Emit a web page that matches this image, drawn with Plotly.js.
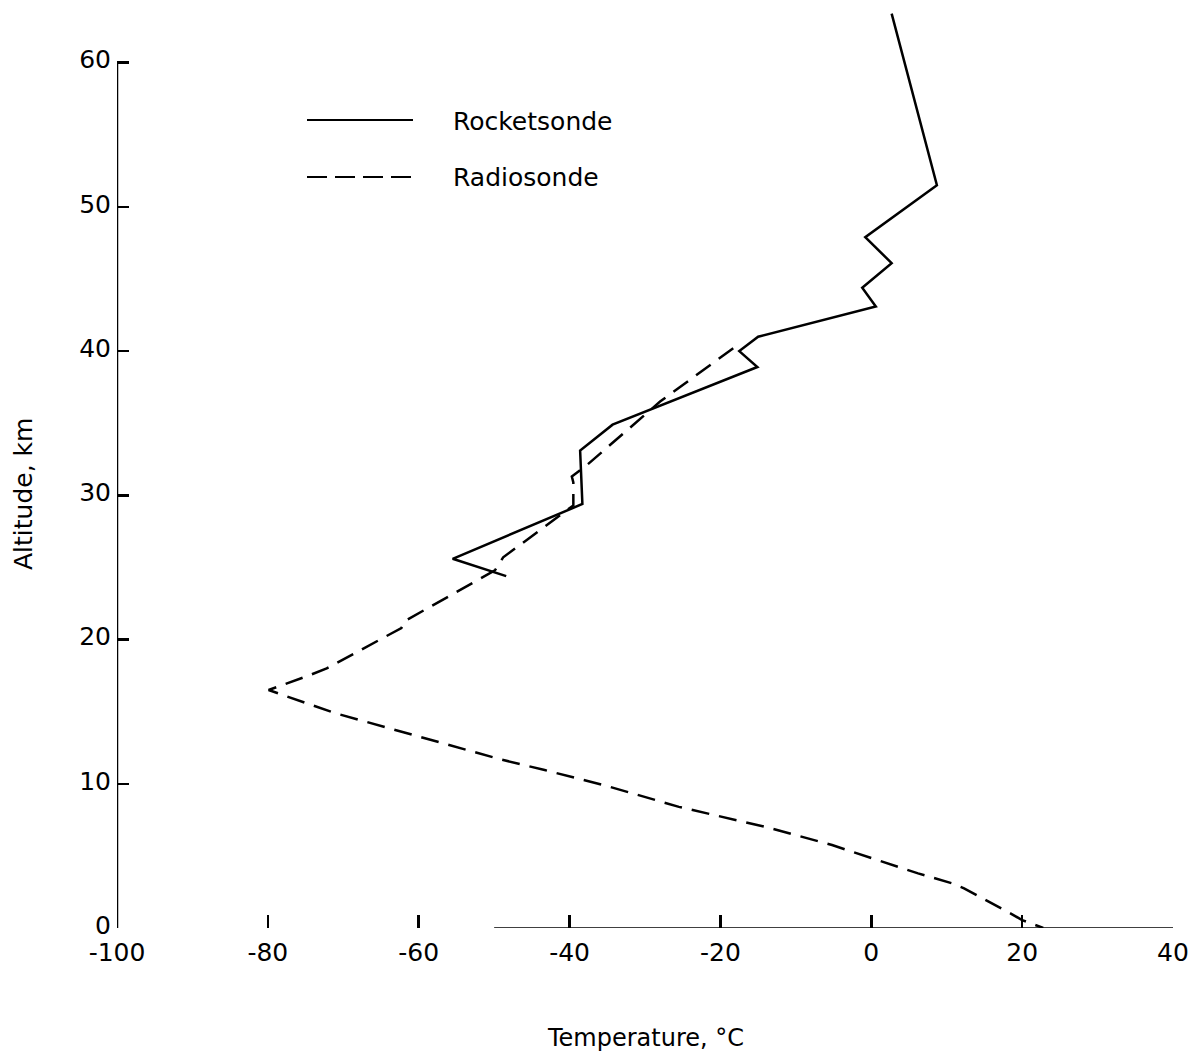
<!DOCTYPE html>
<html>
<head>
<meta charset="utf-8">
<script src="https://cdn.plot.ly/plotly-3.0.1.min.js"></script>
<style>
  html, body { margin: 0; padding: 0; background: #ffffff; }
  #chart { width: 1201px; height: 1060px; }
</style>
</head>
<body>
<div id="chart"></div>
<script>
// Rocketsonde profile (temperature °C, altitude km), read from top to bottom
const rocketTemp = [2.7, 8.7, -0.8, 2.7, -1.2, 0.6, -15.0, -17.5, -15.1, -34.3, -38.6, -38.3, -55.5, -48.4];
const rocketAlt  = [63.4, 51.5, 47.9, 46.1, 44.4, 43.1, 41.0, 40.0, 38.9, 34.9, 33.1, 29.4, 25.6, 24.4];

// Radiosonde profile (temperature °C, altitude km), read from top to bottom
const radioTemp = [-18.3, -28.0, -37.7, -39.7, -39.5, -39.5, -48.8, -49.9, -56.0, -61.8, -62.3, -72.2, -74.6, -79.9, -71.1, -49.2, -43.3, -35.0, -25.5, -13.7, -5.2, 6.2, 10.7, 12.3, 18.5, 20.0, 22.8];
const radioAlt  = [40.2, 36.5, 32.1, 31.3, 30.9, 29.3, 25.7, 24.8, 23.0, 21.3, 20.8, 18.0, 17.5, 16.5, 14.9, 11.7, 10.95, 9.84, 8.4, 6.97, 5.75, 3.79, 3.1, 2.75, 1.0, 0.55, 0];

// Axis ticks
const xTickVals = [-100, -80, -60, -40, -20, 0, 20, 40];
const xTickText = ["-100", "-80", "-60", "-40", "-20", "0", "20", "40"];
const yTickVals = [0, 10, 20, 30, 40, 50, 60];
const yTickText = ["0", "10", "20", "30", "40", "50", "60"];

// Legend labels and titles
const seriesNames = ["Rocketsonde", "Radiosonde"];
const xTitle = "Temperature, °C";
const yTitle = "Altitude, km";

const FONT = "'DejaVu Sans', sans-serif";
const DASH = "18px,10px";

const traces = [
  {
    x: rocketTemp, y: rocketAlt, name: seriesNames[0],
    type: "scatter", mode: "lines",
    line: { color: "#000", width: 2.5 },
    showlegend: false
  },
  {
    x: radioTemp, y: radioAlt, name: seriesNames[1],
    type: "scatter", mode: "lines",
    line: { color: "#000", width: 2.5, dash: DASH },
    showlegend: false
  }
];

const layout = {
  width: 1201, height: 1060,
  margin: { l: 117, r: 28, t: 5, b: 132 },
  paper_bgcolor: "#ffffff", plot_bgcolor: "#ffffff",
  font: { family: FONT, size: 25, color: "#000" },
  showlegend: false,
  xaxis: {
    range: [-100, 40],
    tickmode: "array", tickvals: xTickVals, ticktext: xTickText,
    ticks: "inside", ticklen: 13, tickwidth: 2.5, tickcolor: "#000",
    showline: false, showgrid: false, zeroline: false,
    tickfont: { family: FONT, size: 25, color: "#000" },
    ticklabelstandoff: 7
  },
  yaxis: {
    range: [0, 64],
    tickmode: "array", tickvals: yTickVals, ticktext: yTickText,
    ticks: "inside", ticklen: 12, tickwidth: 2.5, tickcolor: "#000",
    showline: false, showgrid: false, zeroline: false,
    tickfont: { family: FONT, size: 25, color: "#000" },
    ticklabelstandoff: 5,
    ticklabelshift: -3
  },
  shapes: [
    // y axis line (0 to 60 km)
    { type: "line", xref: "x", yref: "y", x0: -100, x1: -100, y0: 0, y1: 60,
      line: { color: "#000", width: 2.5 } },
    // partial x axis line as in the original
    { type: "line", xref: "x", yref: "y", x0: -50, x1: 40, y0: 0, y1: 0,
      line: { color: "#000", width: 1.5 } },
    // legend samples
    { type: "line", xref: "paper", yref: "paper",
      x0: (307 - 117) / 1056, x1: (413 - 117) / 1056,
      y0: (928 - 120) / 923, y1: (928 - 120) / 923,
      line: { color: "#000", width: 2 } },
    { type: "line", xref: "paper", yref: "paper",
      x0: (307 - 117) / 1056, x1: (413 - 117) / 1056,
      y0: (928 - 177) / 923, y1: (928 - 177) / 923,
      line: { color: "#000", width: 2, dash: "20px,8px" } }
  ],
  annotations: [
    { text: seriesNames[0], xref: "paper", yref: "paper",
      x: (451 - 117) / 1056, y: (928 - 121) / 923, xanchor: "left", yanchor: "middle",
      showarrow: false, font: { family: FONT, size: 25, color: "#000" } },
    { text: seriesNames[1], xref: "paper", yref: "paper",
      x: (451 - 117) / 1056, y: (928 - 177) / 923, xanchor: "left", yanchor: "middle",
      showarrow: false, font: { family: FONT, size: 25, color: "#000" } },
    { text: xTitle, xref: "paper", yref: "paper",
      x: 0.5, y: (928 - 1038) / 923, xanchor: "center", yanchor: "middle",
      showarrow: false, font: { family: FONT, size: 24, color: "#000" } },
    { text: yTitle, xref: "paper", yref: "paper", textangle: -90,
      x: (23 - 117) / 1056, y: (928 - 494) / 923, xanchor: "center", yanchor: "middle",
      showarrow: false, font: { family: FONT, size: 25, color: "#000" } }
  ]
};

Plotly.newPlot("chart", traces, layout, { displayModeBar: false, staticPlot: true });
</script>
</body>
</html>
